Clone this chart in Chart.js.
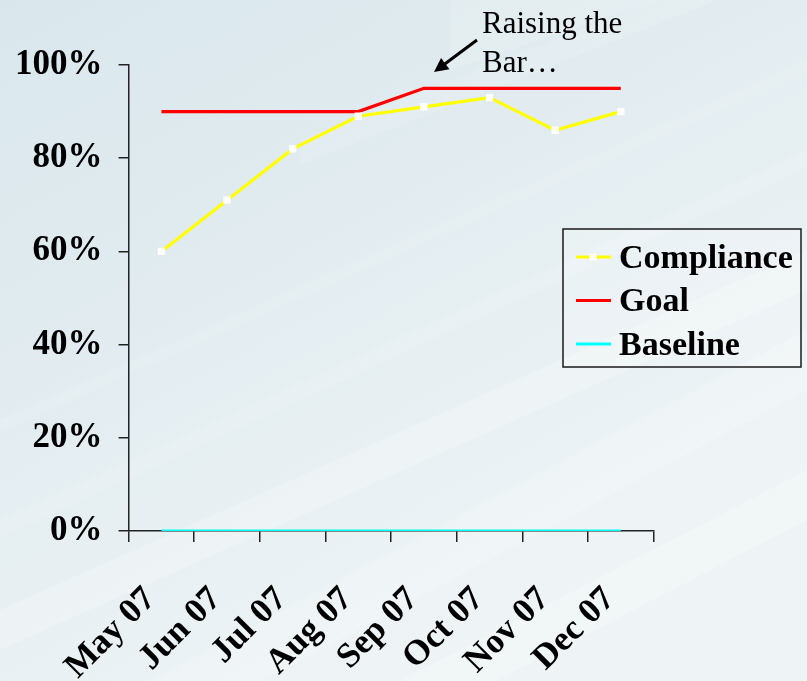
<!DOCTYPE html>
<html><head><meta charset="utf-8">
<script src="https://cdn.jsdelivr.net/npm/chart.js@4.4.0/dist/chart.umd.min.js"></script>
<style>html,body{margin:0;padding:0;background:#e4eef2;}canvas{display:block}</style>
</head><body>
<canvas id="c" width="807" height="681"></canvas>
<script>
// ---- data ----
const categories = ['May 07','Jun 07','Jul 07','Aug 07','Sep 07','Oct 07','Nov 07','Dec 07'];
const compliance = [60, 71, 82, 89, 91, 93, 86, 90];
const goal       = [90, 90, 90, 90, 95, 95, 95, 95];
const baseline   = [0, 0, 0, 0, 0, 0, 0, 0];
const yTickValues = [0, 20, 40, 60, 80, 100];
const seriesNames = ['Compliance', 'Goal', 'Baseline'];
const annotationLines = ['Raising the', 'Bar\u2026'];

const SERIF = "'Liberation Serif', 'Times New Roman', serif";

const bgPlugin = {
  id: 'bg',
  beforeDraw(chart) {
    const ctx = chart.ctx, W = chart.width, H = chart.height;
    ctx.save();
    const g = ctx.createLinearGradient(0, 0, W * 0.45, H);
    g.addColorStop(0, '#d9e7ec');
    g.addColorStop(0.45, '#e2ecf0');
    g.addColorStop(1, '#eef4f6');
    ctx.fillStyle = g;
    ctx.fillRect(0, 0, W, H);
    const bands = [
      [0, 610, 807, 250, 40, 0.22],
      [0, 520, 807, 150, 18, 0.15],
      [150, 681, 807, 330, 60, 0.18],
      [400, 681, 807, 470, 50, 0.2],
      [0, 420, 807, 60, 12, 0.10],
      [450, 0, 807, -120, 70, 0.15],
      [300, 140, 807, -60, 25, 0.12]
    ];
    bands.forEach(([x0, y0, x1, y1, t, a]) => {
      ctx.beginPath();
      ctx.moveTo(x0, y0); ctx.lineTo(x1, y1);
      ctx.lineTo(x1, y1 + t); ctx.lineTo(x0, y0 + t);
      ctx.closePath();
      ctx.fillStyle = 'rgba(255,255,255,' + a + ')';
      ctx.fill();
    });
    ctx.restore();
  }
};

const overlayPlugin = {
  id: 'overlay',
  afterDraw(chart) {
    const ctx = chart.ctx;
    ctx.save();
    // legend box
    ctx.fillStyle = 'rgba(255,255,255,0.18)';
    ctx.fillRect(563, 229, 238, 138);
    ctx.strokeStyle = '#1a1a1a';
    ctx.lineWidth = 1.5;
    ctx.strokeRect(563, 229, 238, 138);
    ctx.font = 'bold 34px ' + SERIF;
    ctx.textBaseline = 'middle';
    ctx.textAlign = 'left';
    chart.data.datasets.forEach((ds, i) => {
      const y = 257 + i * 43.5;
      ctx.strokeStyle = ds.borderColor;
      ctx.lineWidth = 3;
      ctx.beginPath(); ctx.moveTo(576, y); ctx.lineTo(611, y); ctx.stroke();
      if (ds.pointRadius > 0) {
        ctx.fillStyle = ds.pointBackgroundColor;
        ctx.fillRect(589.5, y - 3.5, 7, 7);
      }
      ctx.fillStyle = '#000';
      ctx.fillText(ds.label, 619, y + 2);
    });
    // annotation
    ctx.font = '31px ' + SERIF;
    ctx.textBaseline = 'alphabetic';
    ctx.fillStyle = '#000';
    ctx.fillText(annotationLines[0], 482, 33);
    ctx.fillText(annotationLines[1], 482, 72);
    // arrow
    const x0 = 477, y0 = 40, x1 = 434, y1 = 72;
    ctx.strokeStyle = '#000'; ctx.lineWidth = 3;
    const ang = Math.atan2(y1 - y0, x1 - x0);
    ctx.beginPath(); ctx.moveTo(x0, y0);
    ctx.lineTo(x1 - 8 * Math.cos(ang), y1 - 8 * Math.sin(ang)); ctx.stroke();
    ctx.beginPath();
    ctx.moveTo(x1, y1);
    ctx.lineTo(x1 - 14 * Math.cos(ang) + 7 * Math.sin(ang), y1 - 14 * Math.sin(ang) - 7 * Math.cos(ang));
    ctx.lineTo(x1 - 14 * Math.cos(ang) - 7 * Math.sin(ang), y1 - 14 * Math.sin(ang) + 7 * Math.cos(ang));
    ctx.closePath(); ctx.fillStyle = '#000'; ctx.fill();
    ctx.restore();
  }
};

new Chart(document.getElementById('c'), {
  type: 'line',
  data: {
    labels: categories,
    datasets: [
      { label: seriesNames[0], data: compliance, borderColor: '#ffff00', borderWidth: 3.2,
        pointStyle: 'rect', pointRadius: 5.2, pointBackgroundColor: '#ffffff', pointBorderWidth: 0, pointBorderColor: '#ffffff' },
      { label: seriesNames[1], data: goal, borderColor: '#ff0000', borderWidth: 3.2, pointRadius: 0 },
      { label: seriesNames[2], data: baseline, borderColor: '#00ffff', borderWidth: 3.2, pointRadius: 0 }
    ]
  },
  options: {
    responsive: false,
    animation: false,
    layout: { padding: { left: 0, top: 65, right: 153.4, bottom: 0 } },
    elements: { line: { tension: 0 } },
    plugins: { legend: { display: false }, tooltip: { enabled: false } },
    scales: {
      x: {
        type: 'category',
        offset: true,
        afterFit(scale) { scale.height = 150; },
        grid: { display: true, drawOnChartArea: false, drawTicks: true, tickLength: 11, color: '#222', lineWidth: 1.5, offset: true },
        border: { display: true, color: '#222', width: 1.5 },
        ticks: { autoSkip: false, minRotation: 45, maxRotation: 45, padding: 37, labelOffset: -11, color: '#000',
          font: { family: SERIF, size: 35, weight: 'bold' } }
      },
      y: {
        min: 0, max: 100,
        afterFit(scale) { scale.width = 128.6; },
        afterBuildTicks(scale) { scale.ticks = yTickValues.map(v => ({ value: v })); },
        grid: { display: true, drawOnChartArea: false, drawTicks: true, tickLength: 10, color: '#222', lineWidth: 1.5 },
        border: { display: true, color: '#222', width: 1.5 },
        ticks: { padding: 16, color: '#000', callback: v => v + '%',
          font: { family: SERIF, size: 35, weight: 'bold' } }
      }
    }
  },
  plugins: [bgPlugin, overlayPlugin]
});
</script>
</body></html>
